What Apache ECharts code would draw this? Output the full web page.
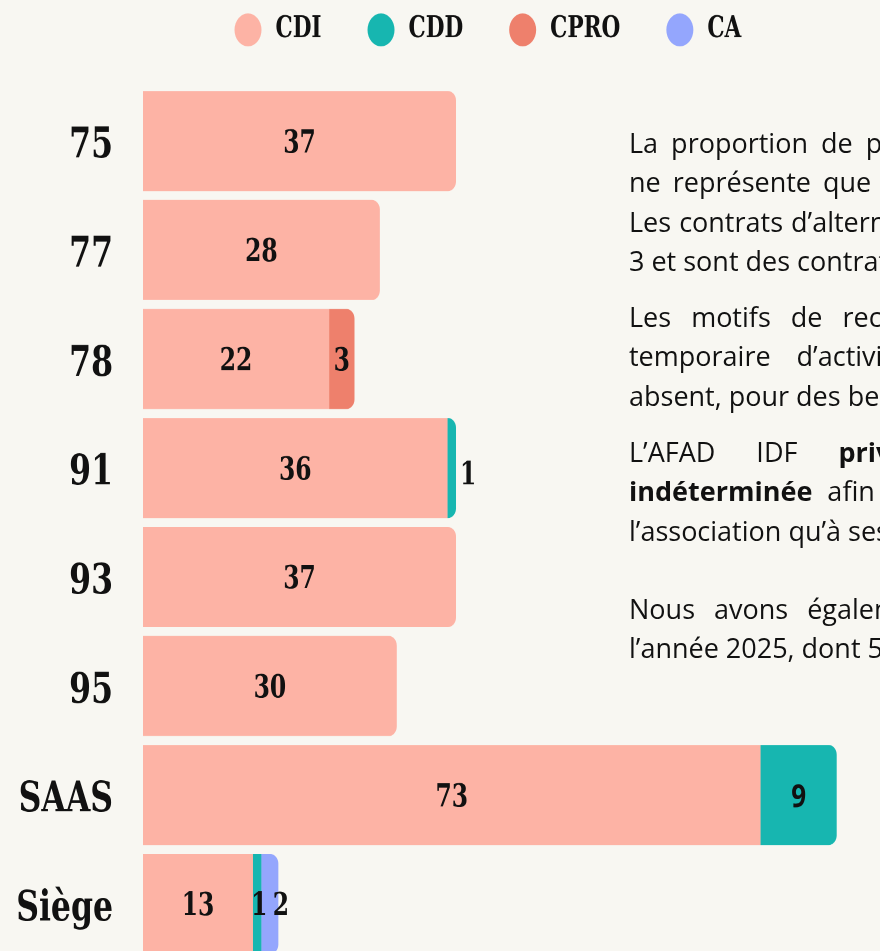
<!DOCTYPE html>
<html lang="fr">
<head>
<meta charset="utf-8">
<title>Contrats par établissement</title>
<script src="https://cdn.jsdelivr.net/npm/echarts@6/dist/echarts.min.js"></script>
<style>
  html, body {
    margin: 0;
    width: 880px;
    height: 951px;
    overflow: hidden;
    background: #f8f7f2;
  }
  /* the reference is stretched vertically, so the chart is drawn flat and scaled */
  #stage {
    position: absolute;
    left: 0;
    top: 0;
    width: 880px;
    height: 800px;
    transform: scaleY(1.22);
    transform-origin: 0 0;
  }
  #chart {
    width: 880px;
    height: 800px;
  }
  #notes {
    position: absolute;
    left: 629px;
    top: 123px;
    font-family: "Open Sans", sans-serif;
    font-size: 27px;
    line-height: 39.3px;
    color: #111;
    white-space: nowrap;
  }
  #notes p {
    margin: 0 0 17px 0;
  }
  #notes .gap {
    height: 22px;
    margin: 0;
  }
</style>
</head>
<body>
<div id="stage"><div id="chart"></div></div>

<div id="notes">
  <p>
    <span style="word-spacing:6px">La proportion de personnes en contrat à durée déterminée</span><br>
    <span style="word-spacing:5px">ne représente que 5 % de l’effectif total.</span><br>
    <span style="word-spacing:1px">Les contrats d’alternance sont au nombre de</span><br>
    <span>3 et sont des contrats de professionnalisation.</span>
  </p>
  <p>
    <span style="word-spacing:13px">Les motifs de recours aux CDD sont l’accroissement</span><br>
    <span style="word-spacing:19px">temporaire d’activité, le remplacement d’un salarié</span><br>
    <span>absent, pour des besoins ponctuels.</span>
  </p>
  <p>
    <span style="word-spacing:34px">L’AFAD IDF <b>privilégie le contrat à durée</b></span><br>
    <span style="word-spacing:8px"><b>indéterminée</b> afin de fidéliser ses salariés, tant à</span><br>
    <span>l’association qu’à ses bénéficiaires.</span>
  </p>
  <div class="gap"></div>
  <p>
    <span style="word-spacing:12px">Nous avons également accueilli des stagiaires sur</span><br>
    <span>l’année 2025, dont 5 en alternance.</span>
  </p>
</div>

<script>
const categories = ['75', '77', '78', '91', '93', '95', 'SAAS', 'Siège'];
const cdiValues = [37, 28, 22, 36, 37, 30, 73, 13];
const cddValues = [0, 0, 0, 1, 0, 0, 9, 1];
const cproValues = [0, 0, 3, 0, 0, 0, 0, 0];
const caValues = [0, 0, 0, 0, 0, 0, 0, 2];

const serifFont = '"DejaVu Serif Condensed", "DejaVu Serif", serif';

const seriesDefs = [
  { name: 'CDI', values: cdiValues, color: '#fdb3a5' },
  { name: 'CDD', values: cddValues, color: '#17b6b0' },
  { name: 'CPRO', values: cproValues, color: '#ee806c' },
  { name: 'CA', values: caValues, color: '#94a6fd' }
];

// a few labels sit outside or beside their segment in the original
const labelTweaks = {
  CDD: {
    3: { position: 'right', distance: 4, offset: [0, 6.5] },
    6: { fontFamily: '"Open Sans", sans-serif' },
    7: { offset: [2, 2.5] }
  },
  CA: {
    7: { offset: [11, 2.5] }
  }
};

// only the last filled segment of a row gets the rounded end
const lastSegment = categories.map((c, i) => {
  let last = 0;
  seriesDefs.forEach((s, k) => {
    if (s.values[i] > 0) last = k;
  });
  return last;
});

const chart = echarts.init(document.getElementById('chart'), null, {
  devicePixelRatio: 2
});

chart.setOption({
  backgroundColor: 'transparent',
  animation: false,
  legend: {
    left: 229.5,
    top: 6,
    icon: 'circle',
    itemWidth: 27,
    itemHeight: 27,
    itemGap: 46,
    selectedMode: false,
    textStyle: {
      fontFamily: serifFont,
      fontWeight: 'bold',
      fontSize: 24,
      color: '#111',
      padding: [0, 0, 0, 9]
    },
    data: seriesDefs.map(s => s.name)
  },
  grid: {
    left: 143,
    top: 70.9,
    width: 736,
    height: 714.75
  },
  xAxis: {
    type: 'value',
    min: 0,
    max: 87,
    show: false
  },
  yAxis: {
    type: 'category',
    inverse: true,
    data: categories,
    axisLine: { show: false },
    axisTick: { show: false },
    axisLabel: {
      margin: 30,
      formatter: v => '{cat|' + v + '}',
      rich: {
        cat: {
          padding: [9, 0, 0, 0],
          fontFamily: serifFont,
          fontWeight: 'bold',
          fontSize: 35,
          color: '#111'
        }
      }
    }
  },
  series: seriesDefs.map((s, k) => ({
    name: s.name,
    type: 'bar',
    stack: 'total',
    barWidth: 82,
    itemStyle: { color: s.color },
    label: {
      show: true,
      position: 'inside',
      offset: [0, 2.5],
      fontFamily: serifFont,
      fontWeight: 'bold',
      fontSize: 26,
      color: '#111',
      formatter: p => (p.value > 0 ? String(p.value) : '')
    },
    data: s.values.map((v, i) => {
      const item = { value: v };
      if (lastSegment[i] === k) {
        item.itemStyle = { borderRadius: [0, 8, 8, 0] };
      }
      const tweak = labelTweaks[s.name] && labelTweaks[s.name][i];
      if (tweak) item.label = tweak;
      return item;
    })
  }))
});
</script>
</body>
</html>
